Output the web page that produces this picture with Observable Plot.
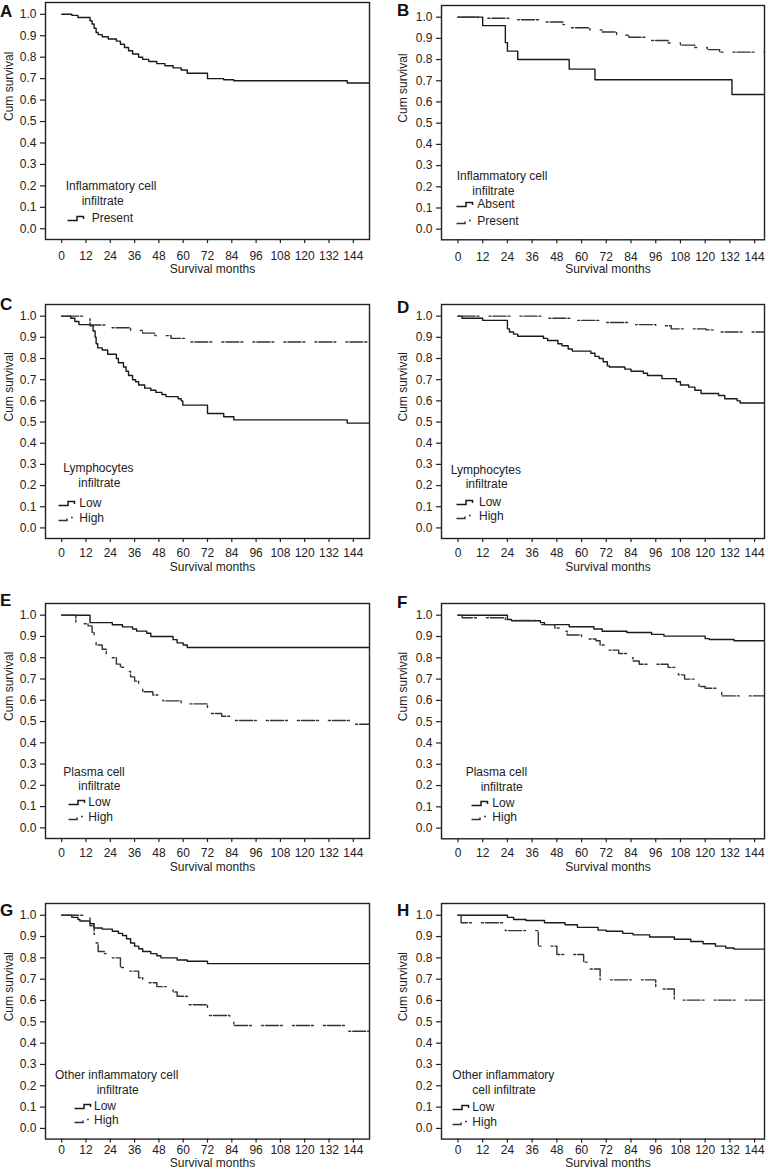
<!DOCTYPE html>
<html><head><meta charset="utf-8">
<script src="https://cdn.jsdelivr.net/npm/d3@7"></script>
<script src="https://cdn.jsdelivr.net/npm/@observablehq/plot@0.6"></script>
<style>
html,body{margin:0;padding:0;background:#fff;overflow:hidden}
#root{position:relative;width:768px;height:1173px;background:#fff;font-family:"Liberation Sans",Arial,Helvetica,sans-serif;color:#222;overflow:hidden}
.wrap{position:absolute}
.lbl{position:absolute;font-size:12px;line-height:14px;white-space:nowrap;color:#222}
.letter{position:absolute;font-size:17px;line-height:17px;font-weight:bold;color:#111}
.glyph{position:absolute}
</style></head><body><div id="root"></div><script>
// ---- tick labels ----
const xTicks = [0, 12, 24, 36, 48, 60, 72, 84, 96, 108, 120, 132, 144];
const yTicks = [0, 0.1, 0.2, 0.3, 0.4, 0.5, 0.6, 0.7, 0.8, 0.9, 1.0];
const xTitle = "Survival months";
const yTitle = "Cum survival";

// ---- A: Inflammatory cell infiltrate ----
const aPresentT = [0, 5, 8, 14, 15, 16, 17, 18, 20, 23, 27, 29, 31, 33, 35, 38, 40, 43, 47, 51, 55, 59, 62, 72, 80, 85, 141, 152];
const aPresentS = [1.0, 0.995, 0.985, 0.97, 0.955, 0.935, 0.915, 0.905, 0.895, 0.885, 0.875, 0.86, 0.845, 0.83, 0.815, 0.80, 0.79, 0.78, 0.77, 0.76, 0.75, 0.74, 0.725, 0.70, 0.695, 0.69, 0.68, 0.68];

// ---- B: Inflammatory cell infiltrate ----
const bAbsentT = [0, 12, 23, 24, 29, 54, 66.5, 133, 152];
const bAbsentS = [1.0, 0.96, 0.88, 0.84, 0.80, 0.755, 0.705, 0.635, 0.635];
const bPresentT = [0, 10, 29, 40, 51, 55, 64, 70, 77, 83, 92, 102, 108, 115, 121, 127, 152];
const bPresentS = [1.0, 0.995, 0.988, 0.977, 0.965, 0.95, 0.94, 0.93, 0.915, 0.905, 0.89, 0.878, 0.868, 0.857, 0.847, 0.835, 0.835];

// ---- C: Lymphocytes infiltrate ----
const cLowT = [0, 4.5, 6.5, 8.5, 14, 15.5, 16.5, 17, 17.8, 20, 22.7, 27, 28, 30.5, 31.8, 33, 35, 36.5, 38, 41, 44, 46.5, 49.5, 51.5, 57.5, 59, 59.8, 72, 80, 85, 141, 152];
const cLowS = [1.0, 0.99, 0.975, 0.96, 0.955, 0.93, 0.90, 0.87, 0.85, 0.84, 0.82, 0.80, 0.78, 0.76, 0.74, 0.72, 0.70, 0.69, 0.675, 0.66, 0.65, 0.64, 0.63, 0.62, 0.61, 0.60, 0.58, 0.54, 0.525, 0.51, 0.495, 0.495];
const cHighT = [0, 14, 23.5, 34, 40, 46, 54, 61, 152];
const cHighS = [1.0, 0.958, 0.945, 0.932, 0.92, 0.908, 0.895, 0.878, 0.878];

// ---- D: Lymphocytes infiltrate ----
const dLowT = [0, 2, 12, 24, 25, 27, 29, 41.5, 43.5, 48.5, 50.5, 53.5, 55.5, 64.5, 66.5, 68.5, 70.5, 72.5, 73.5, 81, 84, 90, 92, 99, 106, 108, 112, 115, 118, 126.5, 129.5, 135.5, 137, 152];
const dLowS = [1.0, 0.99, 0.98, 0.94, 0.925, 0.915, 0.905, 0.895, 0.885, 0.87, 0.86, 0.845, 0.835, 0.825, 0.81, 0.80, 0.785, 0.765, 0.76, 0.75, 0.74, 0.73, 0.72, 0.705, 0.69, 0.675, 0.665, 0.65, 0.635, 0.625, 0.61, 0.60, 0.59, 0.59];
const dHighT = [0, 43.5, 57.5, 70.5, 82.5, 96, 103.5, 120.5, 126.5, 152];
const dHighS = [1.0, 0.99, 0.98, 0.97, 0.96, 0.955, 0.94, 0.935, 0.925, 0.925];

// ---- E: Plasma cell infiltrate ----
const eLowT = [0, 14, 25, 30, 35, 37, 42, 44, 55, 57, 60, 62, 152];
const eLowS = [1.0, 0.965, 0.955, 0.945, 0.935, 0.925, 0.915, 0.90, 0.885, 0.87, 0.86, 0.848, 0.848];
const eHighT = [0, 7, 13, 15, 16, 17, 20, 22, 24, 27, 29, 31, 34, 36, 38, 40, 45, 48, 50, 59, 72, 79, 84, 142, 152];
const eHighS = [1.0, 0.96, 0.95, 0.92, 0.89, 0.86, 0.84, 0.81, 0.80, 0.77, 0.755, 0.735, 0.71, 0.69, 0.675, 0.64, 0.625, 0.61, 0.597, 0.583, 0.538, 0.525, 0.505, 0.487, 0.487];

// ---- F: Plasma cell infiltrate ----
const fLowT = [0, 24, 26, 40, 42, 54, 66, 70, 82, 94, 100, 120, 122, 134, 152];
const fLowS = [1.0, 0.98, 0.974, 0.965, 0.956, 0.946, 0.935, 0.925, 0.919, 0.91, 0.902, 0.89, 0.886, 0.88, 0.88];
const fHighT = [0, 2, 23, 25, 38, 40, 47, 50, 53, 60, 67, 69, 72, 78, 82, 85, 88, 102, 106, 107, 110, 115, 117, 120, 127, 128, 152];
const fHighS = [1.0, 0.988, 0.98, 0.975, 0.965, 0.956, 0.94, 0.925, 0.907, 0.888, 0.88, 0.86, 0.836, 0.82, 0.80, 0.785, 0.77, 0.755, 0.74, 0.72, 0.70, 0.685, 0.665, 0.657, 0.64, 0.621, 0.621];

// ---- G: Other inflammatory cell infiltrate ----
const gLowT = [0, 5, 8, 9, 14, 16, 20, 25, 28, 30, 32, 34, 36, 38, 40, 44, 47, 49, 57, 62, 72, 152];
const gLowS = [1.0, 0.99, 0.98, 0.973, 0.96, 0.94, 0.935, 0.925, 0.915, 0.905, 0.89, 0.87, 0.855, 0.843, 0.83, 0.82, 0.81, 0.80, 0.79, 0.784, 0.773, 0.773];
const gHighT = [0, 14, 16, 17, 18, 21, 25, 29, 32, 38, 40, 47, 55, 57, 62, 72, 83, 85, 141, 152];
const gHighS = [1.0, 0.95, 0.91, 0.87, 0.83, 0.82, 0.80, 0.755, 0.738, 0.707, 0.683, 0.665, 0.64, 0.62, 0.58, 0.53, 0.50, 0.483, 0.456, 0.456];

// ---- H: Other inflammatory cell infiltrate ----
const hLowT = [0, 24, 27, 33, 42, 52, 58, 68, 72, 80, 85, 93, 105, 113, 119, 125, 130, 134, 152];
const hLowS = [1.0, 0.99, 0.98, 0.975, 0.965, 0.955, 0.943, 0.93, 0.925, 0.915, 0.908, 0.898, 0.887, 0.877, 0.866, 0.855, 0.846, 0.841, 0.841];
const hHighT = [0, 1.5, 23, 39, 48, 61, 64, 69, 96, 105, 152];
const hHighS = [1.0, 0.965, 0.928, 0.855, 0.816, 0.78, 0.748, 0.697, 0.654, 0.602, 0.602];

// ---- legend texts ----
const panelLetters = ["A", "B", "C", "D", "E", "F", "G", "H"];
const legendTitles = [
  ["Inflammatory cell", "infiltrate"],
  ["Inflammatory cell", "infiltrate"],
  ["Lymphocytes", "infiltrate"],
  ["Lymphocytes", "infiltrate"],
  ["Plasma cell", "infiltrate"],
  ["Plasma cell", "infiltrate"],
  ["Other inflammatory cell", "infiltrate"],
  ["Other inflammatory", "cell infiltrate"]
];
const groupsOneA = ["Present"];
const groupsAbsPres = ["Absent", "Present"];
const groupsLowHigh = ["Low", "High"];

const toRows = (T, S) => T.map((t, i) => ({t, s: S[i]}));

// ---- layout (positions & styles only) ----
const panels = [
  {col: 0, top: 2,     bottom: 239,    tickPad: 8.2, labelDy: 33.5, letter: [0, 3],    series: [[aPresentT, aPresentS, false]], groups: groupsOneA,
   leg: {t1: [65.7, 185.5], t2: [81.7, 200.5], glyph: 66.7, text: 91.7, rows: [217.5]}},
  {col: 1, top: 4.7,   bottom: 239,    tickPad: 8.2, labelDy: 33.5, letter: [397, 2],  series: [[bAbsentT, bAbsentS, false], [bPresentT, bPresentS, true]], groups: groupsAbsPres,
   leg: {t1: [456.7, 176], t2: [472.3, 190.5], glyph: 455.7, text: 477.3, rows: [204, 220.7]}},
  {col: 0, top: 304,   bottom: 538,    tickPad: 6, labelDy: 32.5, letter: [0, 296],  series: [[cLowT, cLowS, false], [cHighT, cHighS, true]], groups: groupsLowHigh,
   leg: {t1: [63.3, 468.3], t2: [78.3, 483.3], glyph: 58.3, text: 79.3, rows: [503.3, 518.3]}},
  {col: 1, top: 304,   bottom: 538,    tickPad: 6, labelDy: 32.5, letter: [397, 299], series: [[dLowT, dLowS, false], [dHighT, dHighS, true]], groups: groupsLowHigh,
   leg: {t1: [450.7, 470], t2: [465.7, 484], glyph: 455.7, text: 479, rows: [501.7, 516]}},
  {col: 0, top: 603.3, bottom: 838.3,  tickPad: 6, labelDy: 32.5, letter: [0, 592],  series: [[eLowT, eLowS, false], [eHighT, eHighS, true]], groups: groupsLowHigh,
   leg: {t1: [63.3, 771.7], t2: [78.3, 786], glyph: 68, text: 88.3, rows: [802.3, 817.3]}},
  {col: 1, top: 602.7, bottom: 838,    tickPad: 6, labelDy: 32.5, letter: [397, 594], series: [[fLowT, fLowS, false], [fHighT, fHighS, true]], groups: groupsLowHigh,
   leg: {t1: [465.7, 771.7], t2: [480.7, 786.7], glyph: 471.3, text: 492.3, rows: [802.7, 817.3]}},
  {col: 0, top: 902.7, bottom: 1138.3, tickPad: 2, labelDy: 28, letter: [0, 902],  series: [[gLowT, gLowS, false], [gHighT, gHighS, true]], groups: groupsLowHigh,
   leg: {t1: [55, 1075], t2: [96.7, 1090], glyph: 74, text: 94, rows: [1105.7, 1120]}},
  {col: 1, top: 902.7, bottom: 1138.3, tickPad: 2, labelDy: 28, letter: [397, 902], series: [[hLowT, hLowS, false], [hHighT, hHighS, true]], groups: groupsLowHigh,
   leg: {t1: [452.3, 1075], t2: [472.3, 1090], glyph: 452.3, text: 472.3, rows: [1107.3, 1121.7]}}
];

const root = document.getElementById("root");
const FONT = '"Liberation Sans", Arial, Helvetica, sans-serif';
const DASH = "2,2,13,2,2,10";

function addDiv(cls, text, left, top) {
  const d = document.createElement("div");
  d.className = cls;
  d.textContent = text;
  d.style.left = left + "px";
  d.style.top = top + "px";
  root.appendChild(d);
  return d;
}

function addGlyph(left, center, dashed) {
  const ns = "http://www.w3.org/2000/svg";
  const svg = document.createElementNS(ns, "svg");
  svg.setAttribute("width", 20);
  svg.setAttribute("height", 10);
  svg.setAttribute("class", "glyph");
  svg.style.left = left + "px";
  svg.style.top = (center - 5) + "px";
  const p = document.createElementNS(ns, "path");
  p.setAttribute("d", dashed ? "M0.5,7.5 H9 V5.5 M13,4.5 H14.8" : "M0.5,7.5 H10 V3.5 H16.5 V6");
  p.setAttribute("fill", "none");
  p.setAttribute("stroke", dashed ? "#333" : "#1a1a1a");
  p.setAttribute("stroke-width", "1.5");
  svg.appendChild(p);
  root.appendChild(svg);
}

panels.forEach((p, i) => {
  const left = p.col === 0;
  const marginLeft = left ? 45 : 57;
  const marginRight = left ? 15 : 4;
  const xDomain = left ? [-8, 152] : [-8, 148.8];
  const marginTop = 2, marginBottom = 40;
  const frameH = p.bottom - p.top;
  const marks = [
    Plot.frame({stroke: "#222", strokeWidth: 1.4}),
    Plot.axisY({ticks: yTicks, tickFormat: d3.format(".1f"), tickSize: 5, tickPadding: 4, label: null, strokeWidth: 1.2, fill: "#222", fontSize: 12}),
    Plot.axisX({ticks: xTicks, tickFormat: d => String(d), tickSize: 4, tickPadding: p.tickPad, label: null, strokeWidth: 1.2, fill: "#222", fontSize: 12}),
    Plot.text([xTitle], {text: d => d, frameAnchor: "bottom", dy: p.labelDy, dx: 5, fontSize: 12, fill: "#222"}),
    Plot.text([yTitle], {text: d => d, frameAnchor: "left", dx: left ? -36 : -38.5, rotate: -90, fontSize: 12, fill: "#222"})
  ];
  p.series.forEach(([T, S, dashed]) => {
    marks.push(Plot.line(toRows(T, S), {
      x: "t", y: "s", curve: "step-after", clip: true,
      stroke: dashed ? "#333" : "#1a1a1a",
      strokeWidth: 1.4,
      strokeDasharray: dashed ? DASH : null
    }));
  });
  const chart = Plot.plot({
    width: 384,
    height: frameH + marginTop + marginBottom,
    marginTop, marginBottom, marginLeft, marginRight,
    x: {domain: xDomain},
    y: {domain: [-0.05, 1.055]},
    style: {fontFamily: FONT, fontSize: "12px", color: "#222", background: "transparent", overflow: "visible"},
    marks
  });
  const wrap = document.createElement("div");
  wrap.className = "wrap";
  wrap.style.left = (left ? 0 : 384) + "px";
  wrap.style.top = (p.top - marginTop) + "px";
  wrap.appendChild(chart);
  root.appendChild(wrap);

  // panel letter
  addDiv("letter", panelLetters[i], p.letter[0], p.letter[1]);
  // legend
  const lg = p.leg;
  addDiv("lbl", legendTitles[i][0], lg.t1[0], lg.t1[1] - 7);
  addDiv("lbl", legendTitles[i][1], lg.t2[0], lg.t2[1] - 7);
  p.groups.forEach((g, k) => {
    const dashed = p.series[k][2];
    addGlyph(lg.glyph, lg.rows[k], dashed);
    addDiv("lbl", g, lg.text, lg.rows[k] - 7);
  });
});
</script></body></html>
